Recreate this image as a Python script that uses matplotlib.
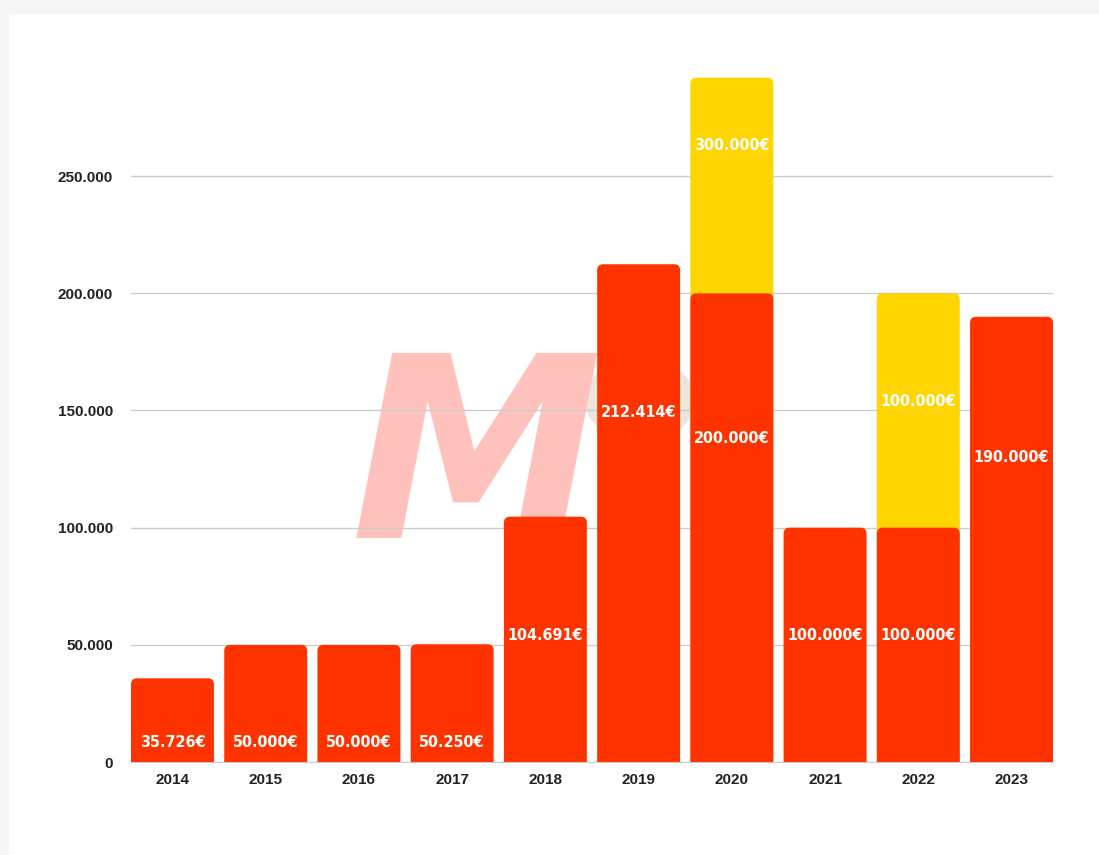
import matplotlib.pyplot as plt
from matplotlib import font_manager as fm
from matplotlib.patches import FancyBboxPatch, Rectangle, Circle

# data
years = ["2014", "2015", "2016", "2017", "2018", "2019", "2020", "2021", "2022", "2023"]
base_values = [35726, 50000, 50000, 50250, 104691, 212414, 200000, 100000, 100000, 190000]
extra_values = [0, 0, 0, 0, 0, 0, 92000, 0, 100000, 0]
base_labels = ["35.726€", "50.000€", "50.000€", "50.250€", "104.691€",
               "212.414€", "200.000€", "100.000€", "100.000€", "190.000€"]
extra_labels = ["", "", "", "", "", "", "300.000€", "", "100.000€", ""]
y_ticks = [0, 50000, 100000, 150000, 200000, 250000]
y_ticklabels = ["0", "50.000", "100.000", "150.000", "200.000", "250.000"]

# where the value labels sit inside the bars (data units)
base_label_y = [8500, 8500, 8500, 8500, 54000, 149000, 138000, 54000, 54000, 130000]
extra_label_y = [0, 0, 0, 0, 0, 0, 263000, 0, 154000, 0]

RED = "#ff3300"
YELLOW = "#ffd500"
W, H = 1099, 855
BAR_W = 0.89


def condensed_font():
    """Find the narrowest bold-ish font installed, or None."""
    stretch_rank = {"ultra-condensed": 0, "extra-condensed": 1, "condensed": 2,
                    "semi-condensed": 3}
    best, best_key = None, None
    for f in fm.fontManager.ttflist:
        st = f.stretch
        if isinstance(st, (int, float)):
            st = {100: "ultra-condensed", 200: "extra-condensed",
                  300: "condensed", 400: "semi-condensed"}.get(int(st), "normal")
        if "Narrow" in f.name:
            st = "condensed"
        if st not in stretch_rank:
            continue
        w = f.weight if isinstance(f.weight, int) else fm.weight_dict.get(f.weight, 400)
        if w < 600 or "italic" in f.style or "oblique" in f.style:
            continue
        key = (stretch_rank[st], abs(w - 700))
        if best_key is None or key < best_key:
            best, best_key = f.fname, key
    return best


fig = plt.figure(figsize=(W / 100, H / 100), dpi=100)
fig.patch.set_facecolor("#f5f5f5")
fig.add_artist(Rectangle((9 / W, 0), 1, 1 - 14 / H, transform=fig.transFigure,
                         facecolor="white", edgecolor="none", zorder=-1))

ax = fig.add_axes([131 / W, 1 - 762 / H, (1053 - 131) / W, (762 - 59) / H])
ax.set_facecolor("none")
ax.set_xlim(-BAR_W / 2, len(years) - 1 + BAR_W / 2)
ax.set_ylim(0, 300000)

# pixel -> data conversions for rounded corners
px_x = (len(years) - 1 + BAR_W) / (1053 - 131)
px_y = 300000 / (762 - 59)
radius_px = 6


def rounded_bar(x, top, color, z):
    r = radius_px * px_x
    box = FancyBboxPatch((x - BAR_W / 2 + r, -3 * radius_px * px_y),
                         BAR_W - 2 * r, top + 3 * radius_px * px_y - radius_px * px_y,
                         boxstyle=f"round,pad={r},rounding_size={r}",
                         mutation_aspect=px_y / px_x,
                         facecolor=color, edgecolor="none", zorder=z)
    ax.add_patch(box)


for i in range(len(years)):
    if extra_values[i]:
        rounded_bar(i, base_values[i] + extra_values[i], YELLOW, 3)
    rounded_bar(i, base_values[i], RED, 4)

# watermark behind the grid and bars
ax.text(476 / W, 1 - 468 / H, "M", transform=fig.transFigure, fontsize=182,
        fontweight="bold", style="italic", color="#ffc1bb", ha="center",
        va="center", zorder=1, family="DejaVu Sans")
ax.add_patch(Circle((640 / W, 1 - 400 / H), 55 / W, transform=fig.transFigure,
                    facecolor="#ece6da", edgecolor="none", zorder=0.9, clip_on=False))

# value labels: condensed font, sized so "100.000€" is about 76 px wide
font_path = condensed_font()
if font_path:
    label_prop = fm.FontProperties(fname=font_path)
else:
    label_prop = fm.FontProperties(family="DejaVu Sans", weight="bold")
renderer = fig.canvas.get_renderer()
probe = fig.text(0, 0, "100.000€", fontproperties=label_prop, fontsize=20)
probe_w = probe.get_window_extent(renderer).width
probe.remove()
label_size = min(20 * 76 / probe_w, 22)

label_kw = dict(fontproperties=label_prop, color="white",
                ha="center", va="center", zorder=6)
for i in range(len(years)):
    t = ax.text(i, base_label_y[i], base_labels[i], **label_kw)
    t.set_fontsize(label_size)
    if extra_labels[i]:
        t = ax.text(i, extra_label_y[i], extra_labels[i], **label_kw)
        t.set_fontsize(label_size)

ax.set_yticks(y_ticks)
ax.set_yticklabels(y_ticklabels)
ax.set_xticks(range(len(years)))
ax.set_xticklabels(years)
for lab in ax.get_xticklabels() + ax.get_yticklabels():
    lab.set_fontweight("bold")
    lab.set_fontsize(11)
    lab.set_family("Liberation Sans")
    lab.set_color("#222222")
ax.tick_params(axis="both", length=0)
ax.tick_params(axis="y", pad=13)
ax.tick_params(axis="x", pad=8)

ax.grid(axis="y", color="#cccccc", linewidth=1)
for gl in ax.get_ygridlines():
    gl.set_zorder(2)
for side in ["top", "right", "left"]:
    ax.spines[side].set_visible(False)
ax.spines["bottom"].set_color("#cccccc")
ax.spines["bottom"].set_zorder(2)

fig.savefig("out.png", dpi=100, facecolor=fig.get_facecolor())
